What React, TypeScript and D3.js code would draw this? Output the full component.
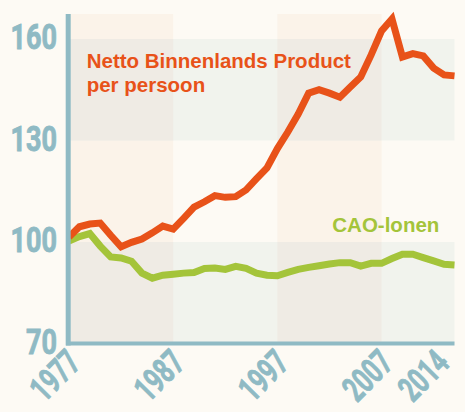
import * as d3 from "d3";

// index, 1977 = 100
const startYear = 1977;
const nbp = [
  101.5, 104.5, 105.3, 105.6, 102, 98.6, 99.9, 100.9, 102.7, 104.7, 103.8, 107,
  110.3, 111.9, 113.7, 113.2, 113.4, 115.4, 118.7, 121.9, 127.6, 132.5, 137.8,
  144, 145, 144, 142.8, 145.8, 148.8, 155.3, 162.4, 165.9, 154.7, 155.7, 155,
  151.4, 149.4, 149.1,
];
const cao = [
  100.3, 101.6, 102.5, 98.8, 95.6, 95.3, 94.3, 90.8, 89.3, 90.2, 90.5, 90.8, 91,
  92.2, 92.3, 91.9, 92.8, 92.2, 90.8, 90.2, 90, 91, 91.9, 92.5, 93, 93.5, 93.9,
  93.9, 92.9, 93.7, 93.7, 95.1, 96.4, 96.4, 95.4, 94.4, 93.4, 93.2,
];
const yTicks = [70, 100, 130, 160];
const xTicks = [1977, 1987, 1997, 2007, 2014];
const yearBands = [
  [1977, 1987],
  [1997, 2007],
];
const valueBands = [
  [130, 160],
  [70, 100],
];

const W = 465;
const H = 412;
const TOP = 14;

const BG = "#fdfaf4";
const VBAND = "#fbf3e9";
const HBAND = "#f1f3ed";
const OVERLAP = "#efebe4";
const AXIS = "#8fbac4";
const ORANGE = "#e85219";
const GREEN = "#a4c43a";

const x = d3.scaleLinear().domain([1977, 2014]).range([69, 454.5]);
const y = d3.scaleLinear().domain([70, 160]).range([343.5, 39]);

const line = d3
  .line<number>()
  .x((_, i) => x(startYear + i))
  .y((d) => y(d));

const tickFont = "Roboto, 'DejaVu Sans', sans-serif";
const labelFont = "'Liberation Sans', Arial, sans-serif";

const App = () => {
  const x0 = x(1977);
  const x1 = x(2014);
  const y0 = y(70);

  return (
    <svg
      width={W}
      height={H}
      style={{ position: "absolute", left: 0, top: 0 }}
    >
      <rect width={W} height={H} fill={BG} />
      {yearBands.map(([a, b]) => (
        <rect
          key={"v" + a}
          x={x(a)}
          y={TOP}
          width={x(b) - x(a)}
          height={y0 - TOP}
          fill={VBAND}
        />
      ))}
      {valueBands.map(([a, b]) => (
        <rect
          key={"h" + a}
          x={x0}
          y={y(b)}
          width={x1 - x0}
          height={y(a) - y(b)}
          fill={HBAND}
        />
      ))}
      {yearBands.map(([a, b]) =>
        valueBands.map(([c, d]) => (
          <rect
            key={"o" + a + c}
            x={x(a)}
            y={y(d)}
            width={x(b) - x(a)}
            height={y(c) - y(d)}
            fill={OVERLAP}
          />
        )),
      )}

      <path
        d={line(cao) ?? ""}
        fill="none"
        stroke={GREEN}
        strokeWidth={7}
        strokeLinejoin="miter"
      />
      <path
        d={line(nbp) ?? ""}
        fill="none"
        stroke={ORANGE}
        strokeWidth={7}
        strokeLinejoin="miter"
      />

      {/* axes */}
      <line x1={68.2} x2={68.2} y1={TOP} y2={y0 + 2} stroke={AXIS} strokeWidth={5} />
      <line x1={66} x2={x1} y1={y0} y2={y0} stroke={AXIS} strokeWidth={4} />

      <g
        fill={AXIS}
        stroke={AXIS}
        strokeWidth={0.9}
        fontFamily={tickFont}
        fontWeight={700}
        fontSize={35}
      >
        {yTicks.map((t) => (
          <text
            key={t}
            x={57}
            y={y(t) + 10}
            textAnchor="end"
            textLength={String(t).length * 15.5}
            lengthAdjust="spacingAndGlyphs"
          >
            {t}
          </text>
        ))}
        {xTicks.map((t) => (
          <text
            key={t}
            transform={`translate(${Math.min(x(t) + 13.5, 451)},365) rotate(-45)`}
            textAnchor="end"
            textLength={54}
            lengthAdjust="spacingAndGlyphs"
          >
            {t}
          </text>
        ))}
      </g>

      <g fontFamily={labelFont} fontWeight={700} fontSize={20.5}>
        <text x={86.7} y={67.7} fill={ORANGE}>
          Netto Binnenlands Product
        </text>
        <text x={86.7} y={91.7} fill={ORANGE}>
          per persoon
        </text>
        <text x={332.3} y={231.7} fill={GREEN}>
          CAO-lonen
        </text>
      </g>
    </svg>
  );
};

export default App;
